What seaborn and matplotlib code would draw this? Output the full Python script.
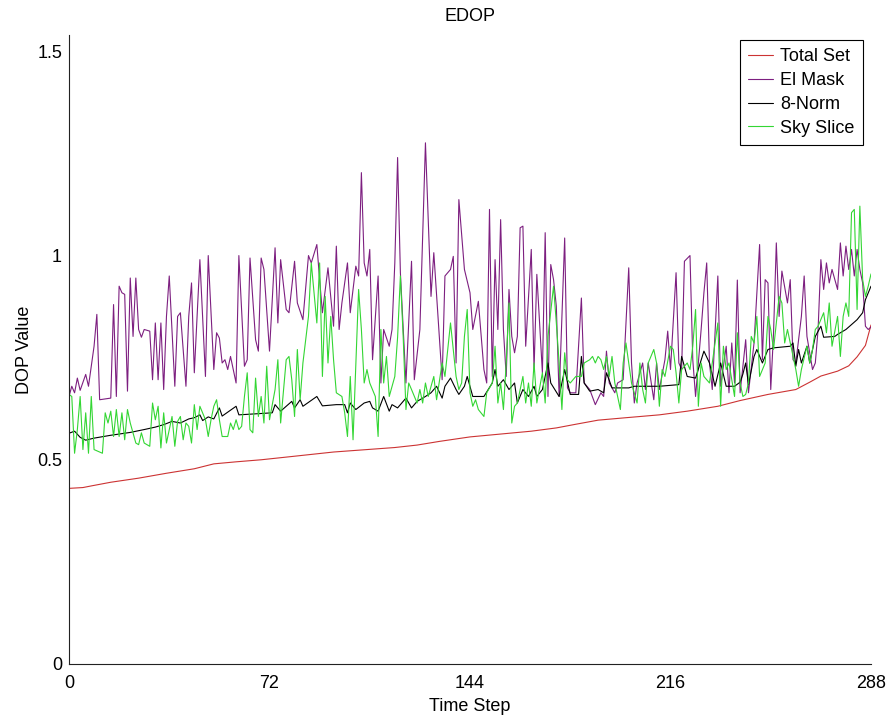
import matplotlib
matplotlib.use("Agg")
import matplotlib.pyplot as plt
import pandas as pd
import seaborn as sns

# ---- EDOP per time step for four satellite-selection schemes ----
total_t = [0, 5, 8, 15, 25, 35, 45, 52, 60, 69, 80, 95, 105, 117, 125, 133, 144, 155,
           166, 175, 182, 190, 200, 212, 222, 233, 241, 251, 261, 266, 270, 276, 280, 283,
           286, 288]
total_v = [0.430, 0.432, 0.436, 0.445, 0.455, 0.467, 0.478, 0.490, 0.495, 0.500, 0.508,
           0.519, 0.524, 0.530, 0.536, 0.545, 0.556, 0.563, 0.570, 0.578, 0.587, 0.597,
           0.603, 0.610, 0.619, 0.631, 0.645, 0.660, 0.672, 0.690, 0.705, 0.717, 0.730,
           0.752, 0.780, 0.830]

mask_t = [0, 1, 2, 3, 4, 6, 7, 9, 10, 11, 15, 16, 17, 18, 19, 20, 21, 22, 23, 24,
          25, 26, 27, 29, 30, 31, 32, 33, 34, 35, 36, 38, 39, 40, 42, 43, 44, 45, 47, 49,
          50, 52, 53, 54, 55, 56, 57, 58, 60, 61, 63, 64, 65, 67, 68, 69, 70, 72, 74, 75,
          76, 78, 79, 81, 82, 84, 86, 87, 89, 90, 91, 93, 95, 96, 97, 98, 100, 101, 103, 104,
          105, 106, 107, 108, 109, 111, 112, 113, 115, 116, 117, 118, 119, 121, 123, 124, 126, 128, 130, 131,
          133, 134, 135, 137, 138, 139, 140, 142, 144, 145, 147, 149, 150, 151, 152, 153, 154, 155, 156, 157,
          158, 159, 160, 161, 162, 163, 164, 166, 167, 168, 170, 171, 172, 173, 174, 175, 176, 178, 179, 180,
          182, 184, 185, 187, 189, 191, 192, 193, 194, 196, 197, 199, 201, 202, 203, 204, 206, 207, 208, 210,
          211, 212, 214, 215, 216, 218, 219, 220, 221, 223, 224, 225, 227, 228, 229, 230, 231, 233, 234, 236,
          237, 238, 239, 240, 241, 243, 244, 246, 248, 249, 250, 251, 252, 253, 254, 255, 256, 258, 259, 260,
          261, 263, 264, 265, 267, 268, 269, 270, 271, 272, 273, 274, 276, 277, 278, 279, 280, 281, 282, 283,
          284, 285, 286, 287, 288]
mask_v = [0.655, 0.680, 0.664, 0.700, 0.670, 0.709, 0.680, 0.778, 0.856, 0.647, 0.651, 0.880, 0.655, 0.925, 0.909, 0.905, 0.668, 0.945, 0.802, 0.945,
          0.819, 0.800, 0.819, 0.815, 0.696, 0.835, 0.696, 0.835, 0.672, 0.851, 0.950, 0.680, 0.851, 0.860, 0.680, 0.851, 0.933, 0.713, 0.990, 0.704,
          1.000, 0.721, 0.811, 0.798, 0.737, 0.745, 0.721, 0.753, 0.688, 1.000, 0.729, 0.745, 0.994, 0.794, 0.766, 0.994, 0.966, 0.766, 1.019, 0.835,
          0.990, 0.868, 0.860, 0.986, 0.884, 0.843, 1.000, 0.982, 1.027, 0.941, 0.860, 0.970, 0.827, 1.023, 0.819, 0.884, 0.982, 0.860, 0.974, 0.950,
          1.203, 0.982, 0.950, 1.015, 0.745, 0.950, 0.688, 0.819, 0.778, 0.819, 0.982, 1.240, 0.958, 0.688, 0.986, 0.696, 0.819, 1.276, 0.900, 1.007,
          0.802, 0.696, 0.950, 0.966, 0.998, 0.737, 1.137, 0.966, 0.909, 0.819, 0.888, 0.721, 0.688, 1.113, 0.704, 0.990, 0.819, 1.088, 0.819, 0.704,
          0.917, 0.802, 0.762, 0.802, 1.068, 1.072, 0.778, 1.015, 0.721, 0.954, 0.713, 1.056, 0.655, 0.978, 0.941, 0.876, 0.655, 1.043, 0.676, 0.664,
          0.664, 0.896, 0.688, 0.672, 0.635, 0.664, 0.655, 0.766, 0.688, 0.664, 0.688, 0.696, 0.970, 0.737, 0.639, 0.688, 0.737, 0.672, 0.737, 0.647,
          0.737, 0.672, 0.745, 0.815, 0.721, 0.958, 0.737, 0.721, 0.986, 1.000, 0.745, 0.655, 0.819, 0.909, 0.982, 0.737, 0.672, 0.950, 0.680, 0.778,
          0.664, 0.786, 0.688, 0.940, 0.664, 0.794, 0.664, 0.786, 1.027, 0.745, 0.941, 0.933, 0.672, 0.810, 1.031, 0.851, 0.962, 0.884, 0.941, 0.745,
          0.737, 0.851, 0.950, 0.802, 0.721, 0.737, 0.819, 0.990, 0.917, 0.982, 0.933, 0.966, 0.917, 1.031, 0.950, 1.023, 0.966, 1.015, 0.950, 1.015,
          0.966, 0.933, 0.827, 0.819, 0.825]

norm_t = [0, 2, 4, 6, 9, 15, 22, 27, 31, 34, 37, 40, 43, 45, 47, 48, 50, 52, 54, 55,
          60, 61, 73, 74, 76, 80, 81, 83, 84, 89, 91, 96, 99, 100, 101, 103, 106, 108, 109, 111,
          113, 115, 116, 118, 121, 123, 125, 128, 130, 132, 134, 135, 137, 139, 140, 142, 143, 145, 149, 152,
          153, 154, 156, 158, 160, 161, 163, 165, 167, 168, 170, 172, 173, 176, 177, 178, 180, 183, 184, 185,
          187, 190, 192, 193, 195, 201, 203, 212, 219, 220, 222, 225, 228, 230, 232, 234, 236, 239, 241, 242,
          243, 244, 246, 247, 249, 251, 253, 259, 260, 261, 262, 263, 265, 266, 268, 270, 271, 275, 276, 279,
          281, 283, 285, 286, 288]
norm_v = [0.565, 0.570, 0.555, 0.548, 0.553, 0.560, 0.567, 0.574, 0.580, 0.586, 0.594, 0.590, 0.600, 0.603, 0.610, 0.596, 0.605, 0.600, 0.627, 0.607,
          0.631, 0.610, 0.615, 0.635, 0.619, 0.643, 0.627, 0.647, 0.631, 0.655, 0.632, 0.635, 0.635, 0.615, 0.639, 0.623, 0.639, 0.643, 0.627, 0.619,
          0.655, 0.619, 0.635, 0.627, 0.651, 0.627, 0.643, 0.655, 0.664, 0.680, 0.651, 0.680, 0.700, 0.672, 0.660, 0.680, 0.704, 0.655, 0.655, 0.688,
          0.721, 0.680, 0.696, 0.672, 0.688, 0.639, 0.672, 0.655, 0.680, 0.655, 0.672, 0.737, 0.688, 0.655, 0.688, 0.721, 0.660, 0.660, 0.753, 0.688,
          0.668, 0.672, 0.664, 0.713, 0.676, 0.676, 0.680, 0.680, 0.684, 0.753, 0.704, 0.700, 0.766, 0.737, 0.680, 0.737, 0.680, 0.680, 0.690, 0.710,
          0.737, 0.684, 0.753, 0.770, 0.737, 0.770, 0.774, 0.778, 0.786, 0.729, 0.770, 0.737, 0.778, 0.737, 0.802, 0.827, 0.800, 0.802, 0.807, 0.819,
          0.831, 0.843, 0.860, 0.892, 0.925]

sky_t = [0, 1, 2, 3, 4, 5, 6, 7, 8, 9, 12, 13, 14, 15, 16, 17, 18, 19, 20, 21,
         22, 24, 25, 26, 27, 29, 30, 31, 32, 33, 34, 35, 37, 38, 39, 40, 41, 42, 43, 44,
         45, 46, 47, 49, 50, 51, 52, 53, 54, 55, 57, 58, 59, 60, 61, 62, 63, 64, 65, 66,
         67, 68, 69, 70, 71, 72, 74, 75, 76, 78, 79, 80, 81, 82, 83, 84, 86, 87, 89, 90,
         91, 92, 93, 94, 95, 96, 98, 99, 100, 101, 102, 104, 105, 106, 107, 108, 110, 111, 112, 113,
         114, 115, 117, 118, 119, 120, 121, 122, 123, 125, 126, 127, 128, 129, 131, 132, 134, 135, 137, 139,
         140, 141, 142, 143, 144, 145, 146, 147, 149, 150, 152, 153, 154, 155, 156, 157, 158, 159, 160, 161,
         163, 164, 165, 166, 167, 168, 170, 171, 172, 174, 175, 176, 177, 178, 179, 180, 182, 184, 185, 187,
         188, 189, 190, 191, 192, 193, 194, 195, 196, 198, 199, 200, 201, 202, 204, 205, 206, 207, 208, 210,
         211, 212, 213, 214, 216, 217, 218, 219, 220, 222, 223, 224, 225, 226, 227, 228, 230, 231, 233, 234,
         235, 236, 237, 239, 240, 241, 242, 243, 244, 245, 246, 247, 248, 250, 251, 252, 253, 255, 256, 257,
         258, 259, 260, 261, 262, 263, 265, 266, 267, 268, 269, 271, 272, 273, 274, 276, 277, 278, 279, 280,
         281, 282, 283, 284, 285, 286, 287, 288]
sky_v = [0.660, 0.655, 0.516, 0.574, 0.655, 0.525, 0.615, 0.516, 0.655, 0.525, 0.516, 0.615, 0.590, 0.619, 0.557, 0.623, 0.557, 0.615, 0.549, 0.623,
         0.590, 0.541, 0.537, 0.566, 0.541, 0.533, 0.639, 0.598, 0.631, 0.529, 0.615, 0.541, 0.606, 0.533, 0.594, 0.606, 0.549, 0.590, 0.582, 0.541,
         0.635, 0.574, 0.631, 0.598, 0.557, 0.598, 0.631, 0.647, 0.598, 0.557, 0.557, 0.590, 0.574, 0.598, 0.574, 0.582, 0.655, 0.713, 0.574, 0.566,
         0.700, 0.606, 0.655, 0.590, 0.729, 0.598, 0.672, 0.745, 0.590, 0.745, 0.753, 0.696, 0.606, 0.770, 0.647, 0.737, 0.851, 0.982, 0.835, 0.982,
         0.704, 0.900, 0.737, 0.851, 0.745, 0.664, 0.655, 0.615, 0.557, 0.704, 0.549, 0.917, 0.819, 0.688, 0.721, 0.688, 0.655, 0.557, 0.819, 0.688,
         0.753, 0.655, 0.704, 0.800, 0.950, 0.802, 0.623, 0.688, 0.672, 0.639, 0.672, 0.639, 0.688, 0.655, 0.704, 0.647, 0.737, 0.704, 0.835, 0.704,
         0.672, 0.688, 0.802, 0.868, 0.664, 0.631, 0.647, 0.623, 0.606, 0.664, 0.688, 0.778, 0.639, 0.688, 0.623, 0.737, 0.884, 0.590, 0.631, 0.639,
         0.704, 0.639, 0.688, 0.631, 0.737, 0.639, 0.713, 0.639, 0.802, 0.925, 0.835, 0.737, 0.623, 0.762, 0.696, 0.688, 0.704, 0.704, 0.737, 0.745,
         0.753, 0.737, 0.753, 0.745, 0.721, 0.753, 0.704, 0.753, 0.688, 0.623, 0.737, 0.786, 0.737, 0.688, 0.639, 0.737, 0.672, 0.639, 0.737, 0.770,
         0.737, 0.631, 0.721, 0.704, 0.778, 0.770, 0.713, 0.639, 0.721, 0.737, 0.721, 0.778, 0.868, 0.631, 0.737, 0.704, 0.688, 0.737, 0.835, 0.631,
         0.778, 0.721, 0.737, 0.655, 0.811, 0.688, 0.655, 0.660, 0.688, 0.802, 0.786, 0.851, 0.704, 0.737, 0.851, 0.819, 0.770, 0.900, 0.884, 0.786,
         0.819, 0.786, 0.753, 0.721, 0.680, 0.721, 0.778, 0.737, 0.770, 0.819, 0.827, 0.860, 0.811, 0.884, 0.778, 0.851, 0.753, 0.851, 0.884, 0.851,
         1.105, 1.113, 0.868, 1.121, 0.941, 0.900, 0.925, 0.955]

series_names = ["Total Set", "El Mask", "8-Norm", "Sky Slice"]
series_colors = ["#cc3333", "#7d1f80", "#000000", "#33d633"]
x_ticks = [0, 72, 144, 216, 288]
y_ticks = [0, 0.5, 1, 1.5]
y_tick_labels = ["0", "0.5", "1", "1.5"]

frames = []
for name, ts, vs in zip(series_names,
                        [total_t, mask_t, norm_t, sky_t],
                        [total_v, mask_v, norm_v, sky_v]):
    assert len(ts) == len(vs), name
    frames.append(pd.DataFrame({"Time Step": ts, "DOP Value": vs, "Scheme": name}))
df = pd.concat(frames, ignore_index=True)

sns.set_theme(style="white")
plt.rcParams["font.family"] = ["Liberation Sans", "DejaVu Sans"]
plt.rcParams["text.color"] = "black"
plt.rcParams["axes.labelcolor"] = "black"

W, H = 891, 723
fig = plt.figure(figsize=(W / 100, H / 100), dpi=100)
ax = fig.add_axes([69 / W, 1 - 664 / H, 802 / W, 629 / H])

sns.lineplot(data=df, x="Time Step", y="DOP Value", hue="Scheme",
             hue_order=series_names, palette=series_colors,
             estimator=None, linewidth=0.8, ax=ax)

ax.set_xlim(0, 288)
ax.set_ylim(0, 1.54)
ax.set_xticks(x_ticks)
ax.set_xticklabels([str(t) for t in x_ticks])
ax.set_yticks(y_ticks)
ax.set_yticklabels(y_tick_labels)

for side in ("top", "right"):
    ax.spines[side].set_visible(False)
for side in ("left", "bottom"):
    ax.spines[side].set_color("#222222")
    ax.spines[side].set_linewidth(0.8)

ax.tick_params(axis="both", direction="in", length=7, width=0.8,
               colors="#222222", labelcolor="black", labelsize=13)
ax.tick_params(axis="y", pad=5)
ax.tick_params(axis="x", pad=8)

ax.set_title("EDOP", fontsize=13, pad=10, color="black")
ax.set_xlabel("Time Step", fontsize=13, labelpad=4, color="black")
ax.set_ylabel("DOP Value", fontsize=13, labelpad=3, color="black")

handles, labels = ax.get_legend_handles_labels()
leg = ax.legend(handles, labels, loc="upper right",
                bbox_to_anchor=(863 / W, 1 - 40 / H), bbox_transform=fig.transFigure,
                frameon=True, fancybox=False, framealpha=1, edgecolor="black",
                fontsize=13, handlelength=1.4, handletextpad=0.4,
                labelspacing=0.38, borderpad=0.45, borderaxespad=0)
leg.get_frame().set_linewidth(0.8)
for line in leg.get_lines():
    line.set_linewidth(0.8)
for text in leg.get_texts():
    text.set_color("black")

fig.savefig("out.png", dpi=100)
